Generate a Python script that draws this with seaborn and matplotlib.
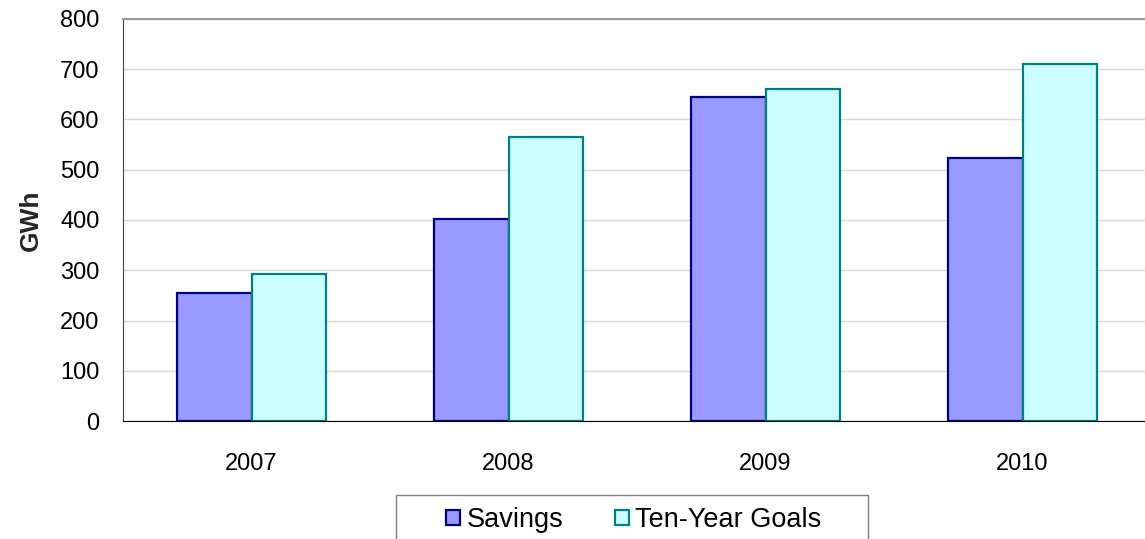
import pandas as pd
import seaborn as sns
import matplotlib.pyplot as plt
from matplotlib.patches import Patch, Rectangle

years = ["2007", "2008", "2009", "2010"]
savings = [254, 402, 645, 523]
goals = [293, 565, 660, 710]
series = ["Savings", "Ten-Year Goals"]

fills = {"Savings": "#9999FF", "Ten-Year Goals": "#CCFFFF"}
edges = {"Savings": "#000080", "Ten-Year Goals": "#008080"}

df = pd.DataFrame({
    "year": years * 2,
    "GWh": savings + goals,
    "series": [series[0]] * len(years) + [series[1]] * len(years),
})

sns.set_style("white")
plt.rcParams['font.family'] = ['Liberation Sans', 'DejaVu Sans']
plt.rcParams['text.color'] = 'black'
plt.rcParams['xtick.color'] = 'black'
plt.rcParams['ytick.color'] = 'black'

fig = plt.figure(figsize=(11.45, 5.39), dpi=100)
ax = fig.add_axes([123 / 1145, 1 - 421 / 539, 1028 / 1145, 402 / 539])

sns.barplot(data=df, x="year", y="GWh", hue="series", palette=fills,
            width=0.58, linewidth=1.6, saturation=1, legend=False, ax=ax)

# outline colour per series
for cont, name in zip(ax.containers, series):
    for bar in cont:
        bar.set_edgecolor(edges[name])

ax.set_ylim(0, 800)
ax.set_xlim(-0.5, 3.5)
ax.set_yticks(range(0, 801, 100))
ax.yaxis.grid(True, color="#D9D9D9", linewidth=1)
ax.set_axisbelow(True)

ax.spines["left"].set_color("#404040")
ax.spines["bottom"].set_color("black")
ax.spines["top"].set_color("#999999")
ax.spines["top"].set_linewidth(1.5)
ax.spines["right"].set_visible(False)

ax.tick_params(axis="y", length=0, pad=17, labelsize=17)
ax.tick_params(axis="x", length=0, pad=23, labelsize=17)
ax.set_xlabel("")
ax.set_ylabel("GWh", fontsize=19, fontweight="bold", labelpad=12)

# legend (frame drawn separately so it can be wider than its contents)
handles = [Patch(facecolor=fills[s], edgecolor=edges[s], linewidth=1.6, label=s)
           for s in series]
fig.legend(handles=handles, loc="center", ncol=2,
           bbox_to_anchor=(634 / 1145, 1 - 520 / 539),
           fontsize=19.5, frameon=False,
           handlelength=0.5, handleheight=0.5,
           handletextpad=0.25, columnspacing=1.9, borderpad=0,
           borderaxespad=0)
fig.patches.append(Rectangle((396 / 1145, -0.05), 472 / 1145, 0.05 + 1 - 495 / 539,
                             transform=fig.transFigure, fill=False,
                             edgecolor="#808080", linewidth=1))

plt.savefig("out.png", dpi=100)
